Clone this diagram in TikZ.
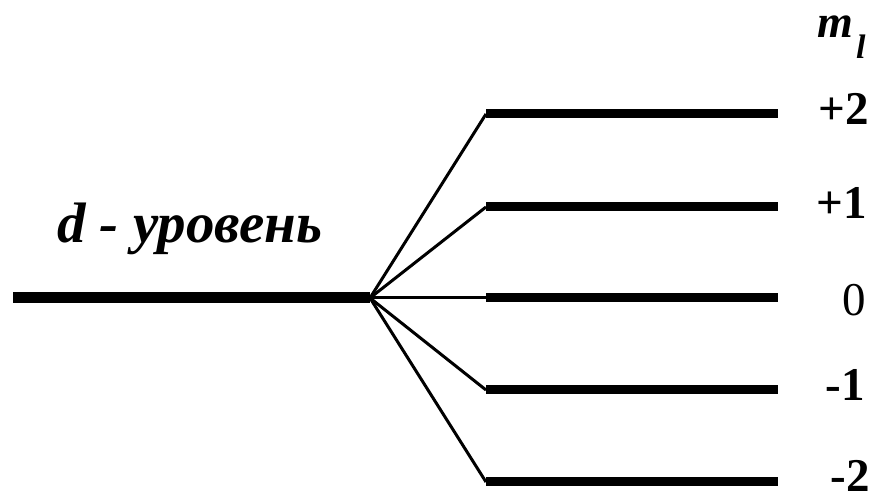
\documentclass[tikz,border=0pt]{standalone}
\usepackage{fontspec}
\setmainfont{Liberation Serif}
\newfontfamily\lbs{Liberation Serif}
\begin{document}
\begin{tikzpicture}[x=1pt,y=1pt,
  thicklev/.style={line width=11pt},
  sublev/.style={line width=9pt},
  fan/.style={line width=3pt},
  num/.style={font=\lbs\fontsize{47}{47}\selectfont\bfseries, inner sep=0pt}]
\useasboundingbox (0,0) rectangle (879,502);
\coordinate (a) at (13,204);
\coordinate (s) at (370,204);
\foreach \n/\y in {p2/388, p1/295, z/204, m1/112, m2/20}{
  \coordinate (\n l) at (486,\y);
  \coordinate (\n r) at (778,\y);
}
\draw[thicklev] (a) -- (s);
\foreach \n in {p2,p1,z,m1,m2}{
  \draw[fan] (s) -- (\n l);
  \draw[sublev] (\n l) -- (\n r);
}
\node[num] (tp2) at (844,393) {+2};
\node[num] (tp1) at (842,299) {+1};
\node[num, font=\lbs\fontsize{47}{47}\selectfont] (tz) at (854,202) {0};
\node[num] (tm1) at (845,117) {-1};
\node[num] (tm2) at (850,26) {-2};
\node[inner sep=0pt, anchor=base west, font=\lbs\fontsize{46}{46}\selectfont\bfseries\itshape] (mm) at (817,464) {m};
\node[inner sep=0pt, anchor=base west, font=\lbs\fontsize{34}{34}\selectfont\bfseries\itshape] (ll) at (856,443) {l};
\node[inner sep=0pt, anchor=base west, font=\lbs\fontsize{57}{57}\selectfont\bfseries\itshape] (dl) at (57,259) {d - уровень};
\end{tikzpicture}
\end{document}
